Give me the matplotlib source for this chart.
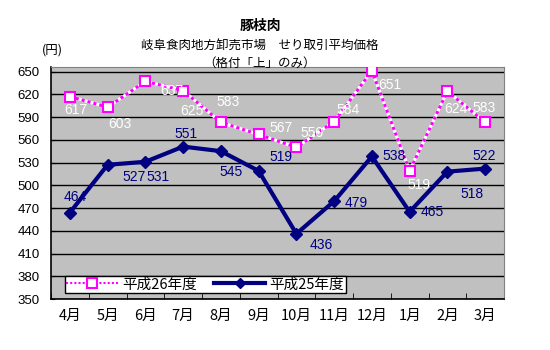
import numpy as np
import matplotlib.pyplot as plt

plt.rcParams['font.family'] = ['Noto Sans CJK JP', 'DejaVu Sans']

# data
months = ['4月', '5月', '6月', '7月', '8月', '9月', '10月', '11月', '12月', '1月', '2月', '3月']
h26 = [617, 603, 637, 625, 583, 567, 550, 584, 651, 519, 624, 583]
h25 = [464, 527, 531, 551, 545, 519, 436, 479, 538, 465, 518, 522]
yticks = np.arange(350, 651, 30)

# label offsets in points (dx, dy), hand placed like the original
off26 = [(4, -10), (9, -12), (19, -7), (6, -15), (5, 15), (16, 5),
         (11, 10), (10, 8), (13, -10), (7, -10), (6, -13), (-1, 10)]
off25 = [(4, 11), (19, -9), (9, -11), (2, 9), (7, -15), (16, 10),
         (18, -8), (16, -1), (16, 0), (16, 0), (18, -16), (-1, 9)]

fig = plt.figure(figsize=(5.5, 3.5), dpi=100)
ax = fig.add_axes([51/550, 1 - 299/350, 453/550, 232/350])
ax.set_facecolor('#C0C0C0')

x = np.arange(len(months))

# 平成26年度: white line under magenta dots
ax.plot(x, h26, color='white', lw=2.2, zorder=3)
ax.plot(x, h26, color='#FF00FF', lw=2.2, dashes=(1, 1), zorder=3)
ax.plot(x, h26, ls='none', marker='s', ms=7, mfc='white', mec='#FF00FF', mew=1.5, zorder=5)
ax.plot(x, h25, color='#000080', lw=3, marker='D', ms=6, mfc='#000080', mec='#000080', zorder=4)

for i in range(len(x)):
    ax.annotate(str(h26[i]), (x[i], h26[i]), xytext=off26[i], textcoords='offset points',
                ha='center', va='center', color='white', fontsize=10, family='Liberation Sans', zorder=6)
    ax.annotate(str(h25[i]), (x[i], h25[i]), xytext=off25[i], textcoords='offset points',
                ha='center', va='center', color='#000080', fontsize=10, family='Liberation Sans', zorder=6)

ax.set_ylim(350, 656)
ax.set_xlim(-0.5, len(x) - 0.5)
ax.set_yticks(yticks)
ax.set_yticklabels([str(v) for v in yticks], family='Liberation Sans', fontsize=9.5)
ax.yaxis.grid(True, color='black', lw=1)
ax.set_axisbelow(True)
ax.tick_params(axis='y', direction='in', length=3, pad=8)

ax.set_xticks(x)
ax.set_xticklabels(months, fontsize=10.5)
ax.set_xticks(np.arange(-0.5, len(x)), minor=True)
ax.tick_params(axis='x', which='major', length=0, pad=7)
ax.tick_params(axis='x', which='minor', direction='in', length=4)

for s in ['top', 'right']:
    ax.spines[s].set_color('#808080')
for s in ['left', 'bottom']:
    ax.spines[s].set_color('black')
    ax.spines[s].set_linewidth(1.2)

# legend built from proxies
from matplotlib.lines import Line2D
p26 = (Line2D([], [], color='#FF00FF', lw=1.5, dashes=(1, 1)),
       Line2D([], [], ls='none', marker='s', ms=7, mfc='white', mec='#FF00FF', mew=1.5))
p25 = Line2D([], [], color='#000080', lw=3, marker='D', ms=5)
leg = ax.legend([p26, p25], ['平成26年度', '平成25年度'], ncol=2, loc='lower left',
                bbox_to_anchor=(14/453, 6/232), fontsize=10.5, frameon=True, fancybox=False,
                edgecolor='black', framealpha=1, borderpad=0.1, handlelength=3.5,
                columnspacing=1.2, handletextpad=0.3, borderaxespad=0)
leg.get_frame().set_linewidth(1)

fig.text(260/550, 1 - 26/350, '豚枝肉', ha='center', va='center', fontsize=10, weight='bold')
fig.text(260/550, 1 - 46/350, '岐阜食肉地方卸売市場　せり取引平均価格', ha='center', va='center', fontsize=9)
fig.text(260/550, 1 - 63/350, '（格付「上」のみ）', ha='center', va='center', fontsize=9)
fig.text(52/550, 1 - 50/350, '(円)', ha='center', va='center', fontsize=9)

fig.savefig('out.png', dpi=100)
